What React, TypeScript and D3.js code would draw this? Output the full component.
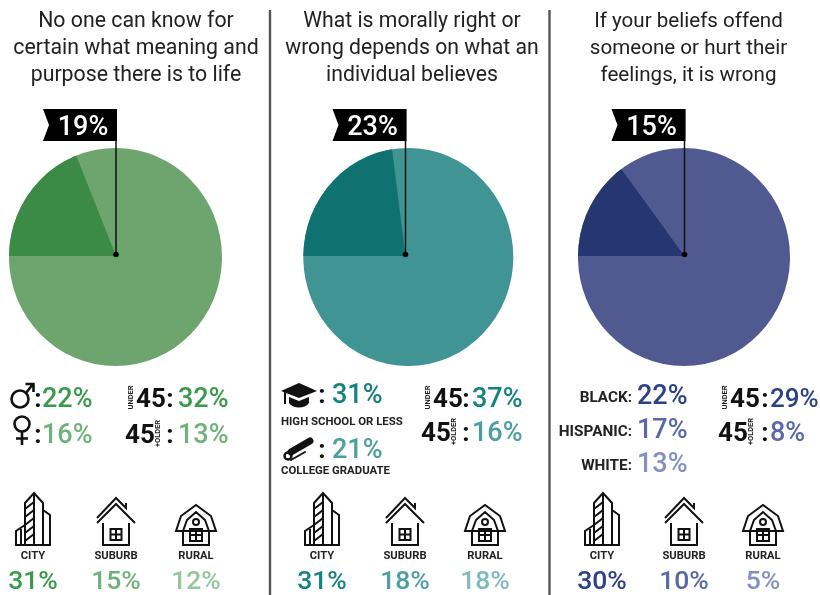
import React from 'react';
import * as d3 from 'd3';

const titles = [
  ['No one can know for', 'certain what meaning and', 'purpose there is to life'],
  ['What is morally right or', 'wrong depends on what an', 'individual believes'],
  ['If your beliefs offend', 'someone or hurt their', 'feelings, it is wrong'],
];
const shares = [19, 23, 15];

const genderValues = [22, 16];
const educationLabels = ['HIGH SCHOOL OR LESS', 'COLLEGE GRADUATE'];
const educationValues = [31, 21];
const raceLabels = ['BLACK:', 'HISPANIC:', 'WHITE:'];
const raceValues = [22, 17, 13];
const under45Values = [32, 37, 29];
const over45Values = [13, 16, 8];

const communityLabels = ['CITY', 'SUBURB', 'RURAL'];
const communityValues = [
  [31, 15, 12],
  [31, 18, 18],
  [30, 10, 5],
];

const pieColors = [
  { dark: '#3b8a45', light: '#6ea56f' },
  { dark: '#0f7271', light: '#409594' },
  { dark: '#263670', light: '#505a90' },
];
const shades = [
  ['#3a9a4c', '#6fb37b', '#93c69c'],
  ['#14827f', '#4ba09e', '#7dbcba'],
  ['#2c4188', '#5a68a8', '#8590c2'],
];

// pole = flag staff x, cx = pie ellipse centre x (the reference pies are slightly stretched)
const columns = [
  { pole: 116, cx: 115.5, rx: 106.5, title: 136, titleSize: 21.3, community: [33, 116, 196] },
  { pole: 405.5, cx: 408.3, rx: 105, title: 412, titleSize: 21.2, community: [322, 405, 485] },
  { pole: 684.5, cx: 684, rx: 106, title: 688.5, titleSize: 20.6, community: [602, 684, 763] },
];
const pieCy = 257;
const pieRy = 109;

const FONT = 'Roboto, sans-serif';
const pct = (v: number) => `${v}%`;

const pieGen = d3
  .pie<number>()
  .sort(null)
  .startAngle(-Math.PI / 2)
  .endAngle((3 * Math.PI) / 2);

const Stat = ({ x, y, value, color, size = 27, anchor = 'start' }: any) => (
  <text x={x} y={y} fontSize={size} fontWeight={500} fill={color} textAnchor={anchor}>
    {pct(value)}
  </text>
);

const Colon = ({ x, y, size = 26 }: any) => (
  <text x={x} y={y} fontSize={size} fontWeight={700} fill="#111" textAnchor="middle">
    :
  </text>
);

const Age = ({ y, kind, ageX, value, color, colonX, valueX, valueSize }: any) => {
  const small = kind === 'under' ? 'UNDER' : '+OLDER';
  const smallX = kind === 'under' ? ageX - 3 : ageX + 35;
  return (
    <g>
      <text x={ageX} y={y} fontSize={26} fontWeight={700} fill="#111">
        45
      </text>
      <text
        transform={`translate(${smallX},${y - 9.5}) rotate(-90)`}
        fontSize={7.5}
        fontWeight={700}
        fill="#222"
        textAnchor="middle"
      >
        {small}
      </text>
      <Colon x={colonX} y={y} />
      <Stat x={valueX} y={y} value={value} color={color} size={valueSize} />
    </g>
  );
};

const CityIcon = () => (
  <g fill="none" stroke="#111" strokeWidth={2}>
    <path d="M-18 0H18" />
    <path d="M-8 0V-42L1 -52L10 -42V0" />
    <path d="M1 -52V0" />
    <path d="M10 -35L17 -30V0" />
    <path d="M-8 -20L-17 -14V0" />
    <path d="M-12 -16V0" />
    <path d="M-8 -36L1 -43M-8 -28L1 -35M-8 -20L1 -27M-8 -12L1 -19M-8 -4L1 -11" />
  </g>
);

const SuburbIcon = () => (
  <g fill="none" stroke="#111" strokeWidth={2}>
    <path d="M-19 -22L0 -41L19 -22" />
    <path d="M-19 -27L0 -47L10 -37V-42" />
    <path d="M-13 -22V0H13V-22" />
    <path d="M-5.5 -16H5.5V-5H-5.5ZM0 -16V-5M-5.5 -10.5H5.5" />
  </g>
);

const RuralIcon = () => (
  <g fill="none" stroke="#111" strokeWidth={2}>
    <path d="M-20 -14L-15 -29L0 -40L15 -29L20 -14Z" />
    <path d="M-13 -14V0H13V-14" />
    <path d="M-13 -14L-9 -25L0 -33L9 -25L13 -14" />
    <circle cx={0} cy={-23} r={3} />
    <path d="M-6 -16H6V-4H-6ZM0 -16V-4M-6 -10H6" />
  </g>
);

const communityIcons = [CityIcon, SuburbIcon, RuralIcon];

const MaleIcon = () => (
  <g fill="none" stroke="#111" strokeWidth={2.6}>
    <circle cx={20} cy={399} r={8.5} />
    <path d="M26 393L33 384M25.5 384H33.5V392" />
  </g>
);

const FemaleIcon = () => (
  <g fill="none" stroke="#111" strokeWidth={2.6}>
    <circle cx={22} cy={424} r={7.5} />
    <path d="M22 431.5V445M16 438.5H28" />
  </g>
);

const CapIcon = () => (
  <g fill="#111" stroke="none">
    <path d="M281 391L299 383L317 391L299 398Z" />
    <path d="M289 397L299 401L309 397V403C305 409 293 409 289 403Z" />
    <path d="M284 392V404H286V392Z" />
  </g>
);

const DiplomaIcon = () => (
  <g stroke="#111" fill="none" strokeLinecap="round">
    <path d="M291 452L310 441" strokeWidth={7} />
    <circle cx={288} cy={456} r={3.5} strokeWidth={2.4} />
    <path d="M291 460L305 452" strokeWidth={2} />
  </g>
);

const Pie = ({ index }: { index: number }) => {
  const col = columns[index];
  const share = shares[index];
  const slices = pieGen([share, 100 - share]);
  const scaleY = pieRy / col.rx;
  const fullArc = d3.arc<any>().innerRadius(0).outerRadius(col.rx);
  const wedgeArc = d3.arc<any>().innerRadius(0).outerRadius(140);
  const clipId = `pie-clip-${index}`;
  const left = col.pole - 73;
  const staffTop = 109;
  const bannerBottom = 141;
  const banner = `M${left} ${staffTop}H${col.pole + 1}V${bannerBottom}H${left}L${left + 6} ${(staffTop + bannerBottom) / 2}Z`;
  const fullPath = fullArc({ startAngle: 0, endAngle: 2 * Math.PI }) as string;
  return (
    <g>
      <clipPath id={clipId}>
        <path d={fullPath} transform={`translate(${col.cx},${pieCy}) scale(1,${scaleY})`} />
      </clipPath>
      <path d={fullPath} fill={pieColors[index].light} transform={`translate(${col.cx},${pieCy}) scale(1,${scaleY})`} />
      <g clipPath={`url(#${clipId})`}>
        <path
          d={wedgeArc(slices[0]) as string}
          fill={pieColors[index].dark}
          transform={`translate(${col.pole},${pieCy - 1})`}
        />
      </g>
      <line x1={col.pole} x2={col.pole} y1={staffTop} y2={254} stroke="#111" strokeWidth={1.5} />
      <circle cx={col.pole} cy={254.5} r={2.8} fill="#000" />
      <path d={banner} fill="#000" />
      <text x={col.pole - 33} y={135} fontSize={27} fontWeight={500} fill="#fff" textAnchor="middle">
        {pct(share)}
      </text>
    </g>
  );
};

const App = () => {
  return (
    <svg
      width={820}
      height={595}
      style={{ position: 'absolute', left: 0, top: 0, display: 'block', background: '#fff' }}
      fontFamily={FONT}
    >
      <g style={{ filter: 'blur(0.35px)' }}>
        {[270, 549.5].map((x) => (
          <line key={x} x1={x} x2={x} y1={10} y2={595} stroke="#555" strokeWidth={2.4} />
        ))}

        {titles.map((lines, i) => (
          <g key={i}>
            {lines.map((line, j) => (
              <text
                key={line}
                x={columns[i].title}
                y={27 + j * 27}
                fontSize={columns[i].titleSize}
                fill="#222"
                textAnchor="middle"
              >
                {line}
              </text>
            ))}
          </g>
        ))}

        {shares.map((_, i) => (
          <Pie key={i} index={i} />
        ))}

        {/* first column: gender */}
        <MaleIcon />
        <FemaleIcon />
        <Colon x={38} y={407} />
        <Colon x={38} y={443} />
        <Stat x={42} y={407} value={genderValues[0]} color={shades[0][0]} />
        <Stat x={42} y={443} value={genderValues[1]} color={shades[0][1]} />

        {/* second column: education */}
        <CapIcon />
        <DiplomaIcon />
        <Colon x={322} y={403} />
        <Colon x={322} y={458} />
        <Stat x={332} y={403} value={educationValues[0]} color={shades[1][0]} />
        <Stat x={332} y={458} value={educationValues[1]} color={shades[1][1]} />
        <text x={281} y={425} fontSize={11.4} fontWeight={700} fill="#222">
          {educationLabels[0]}
        </text>
        <text x={281} y={474} fontSize={11.4} fontWeight={700} fill="#222">
          {educationLabels[1]}
        </text>

        {/* third column: race */}
        {raceLabels.map((label, i) => (
          <g key={label}>
            <text x={632} y={402 + i * 34} fontSize={15.3} fontWeight={700} fill="#222" textAnchor="end">
              {label}
            </text>
            <Stat x={637} y={404 + i * 34} value={raceValues[i]} color={shades[2][i]} />
          </g>
        ))}

        {/* age */}
        <Age kind="under" ageX={136} y={407} value={under45Values[0]} color={shades[0][0]} colonX={170} valueX={178} />
        <Age kind="over" ageX={125} y={443} value={over45Values[0]} color={shades[0][1]} colonX={170} valueX={178} />
        <Age kind="under" ageX={433} y={407} value={under45Values[1]} color={shades[1][0]} colonX={466} valueX={472} />
        <Age kind="over" ageX={421} y={441} value={over45Values[1]} color={shades[1][1]} colonX={466} valueX={472} />
        <Age kind="under" ageX={730} y={407} value={under45Values[2]} color={shades[2][0]} colonX={765} valueX={770} valueSize={26} />
        <Age kind="over" ageX={718} y={441} value={over45Values[2]} color={shades[2][1]} colonX={765} valueX={770} />

        {/* community row */}
        {columns.map((col, i) =>
          communityLabels.map((label, j) => {
            const Icon = communityIcons[j];
            const x = col.community[j];
            return (
              <g key={label}>
                <g transform={`translate(${x},545)`}>
                  <Icon />
                </g>
                <text x={x} y={559} fontSize={11.2} fontWeight={700} fill="#222" textAnchor="middle">
                  {label}
                </text>
                <Stat
                  x={x}
                  y={588.5}
                  value={communityValues[i][j]}
                  color={shades[i][j]}
                  size={26.5}
                  anchor="middle"
                />
              </g>
            );
          })
        )}
      </g>
    </svg>
  );
};

export default App;
